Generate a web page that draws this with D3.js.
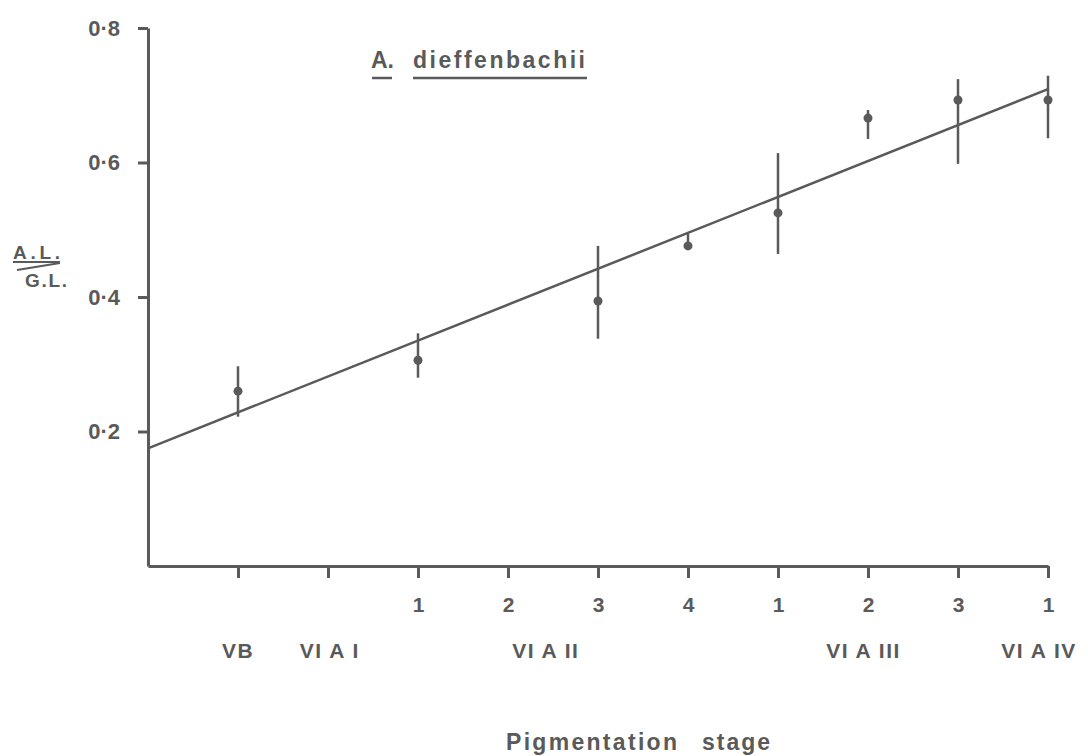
<!DOCTYPE html>
<html>
<head>
<meta charset="utf-8">
<script src="https://cdn.jsdelivr.net/npm/d3@7"></script>
<style>
  body { margin: 0; background: #fff; }
  text { font-family: "Liberation Sans", Arial, sans-serif; font-weight: bold; fill: #5a5a5a; }
</style>
</head>
<body>
<div id="chart"></div>
<script>
// stage index along the x axis (1..10), mean A.L./G.L. and the error bar ends
const stageIndex = [1, 3, 5, 6, 7, 8, 9, 10];
const meanRatio  = [0.260, 0.306, 0.394, 0.476, 0.525, 0.666, 0.693, 0.693];
const errLow     = [0.222, 0.280, 0.338, 0.474, 0.464, 0.635, 0.598, 0.636];
const errHigh    = [0.297, 0.346, 0.476, 0.494, 0.614, 0.678, 0.724, 0.729];

// fitted regression line, end points
const fitX = [0, 10];
const fitY = [0.175, 0.709];

// tick labels
const yTicks = [0.2, 0.4, 0.6, 0.8];
const xTicks = [1, 2, 3, 4, 5, 6, 7, 8, 9, 10];
const subStageLabels = ["", "", "1", "2", "3", "4", "1", "2", "3", "1"];
const stageNames = ["VB", "VI A I", "VI A II", "VI A III", "VI A IV"];
const stagePos   = [1, 2.02, 4.42, 7.95, 9.9];

const width = 1088, height = 756;
const ink = "#5a5a5a";

const svg = d3.select("#chart")
    .append("svg")
    .attr("width", width)
    .attr("height", height);

const x = d3.scaleLinear().domain([0, 10]).range([148, 1048]);
const y = d3.scaleLinear().domain([0, 0.8]).range([566, 28]);

// y axis
const yAxis = svg.append("g")
    .attr("transform", `translate(${x(0)},0)`)
    .call(d3.axisLeft(y)
        .tickValues(yTicks)
        .tickSize(10)
        .tickSizeOuter(0)
        .tickPadding(18)
        .tickFormat(d => d3.format(".1f")(d).replace(".", "·")));
yAxis.select(".domain").attr("stroke", ink).attr("stroke-width", 3);
yAxis.selectAll(".tick line").attr("stroke", ink).attr("stroke-width", 3);
yAxis.selectAll(".tick text")
    .style("font-size", "22px")
    .attr("fill", ink);

// x axis
const xAxis = svg.append("g")
    .attr("transform", `translate(0,${y(0)})`)
    .call(d3.axisBottom(x)
        .tickValues(xTicks)
        .tickSize(12)
        .tickSizeOuter(0)
        .tickPadding(19)
        .tickFormat((d, i) => subStageLabels[i]));
xAxis.select(".domain").attr("stroke", ink).attr("stroke-width", 3);
xAxis.selectAll(".tick line").attr("stroke", ink).attr("stroke-width", 3);
xAxis.selectAll(".tick text")
    .style("font-size", "21px")
    .attr("fill", ink);

// stage names row
svg.selectAll(".stage-name")
    .data(stageNames)
    .enter()
    .append("text")
    .attr("class", "stage-name")
    .attr("x", (d, i) => x(stagePos[i]))
    .attr("y", 658)
    .attr("text-anchor", "middle")
    .style("font-size", "21px")
    .style("letter-spacing", "1.5px")
    .text(d => d);

// regression line
svg.append("line")
    .attr("x1", x(fitX[0]))
    .attr("y1", y(fitY[0]))
    .attr("x2", x(fitX[1]))
    .attr("y2", y(fitY[1]))
    .attr("stroke", ink)
    .attr("stroke-width", 2.5);

// error bars
svg.selectAll(".err")
    .data(stageIndex)
    .enter()
    .append("line")
    .attr("class", "err")
    .attr("x1", d => x(d))
    .attr("x2", d => x(d))
    .attr("y1", (d, i) => y(errLow[i]))
    .attr("y2", (d, i) => y(errHigh[i]))
    .attr("stroke", ink)
    .attr("stroke-width", 2.5);

// means
svg.selectAll(".mean")
    .data(stageIndex)
    .enter()
    .append("circle")
    .attr("class", "mean")
    .attr("cx", d => x(d))
    .attr("cy", (d, i) => y(meanRatio[i]))
    .attr("r", 4.5)
    .attr("fill", ink);

// species title, underlined
svg.append("text")
    .attr("x", 371).attr("y", 68)
    .style("font-size", "23px")
    .text("A.");
svg.append("line")
    .attr("x1", 372).attr("x2", 392).attr("y1", 78).attr("y2", 78)
    .attr("stroke", ink).attr("stroke-width", 2.5);
svg.append("text")
    .attr("x", 413).attr("y", 68)
    .attr("textLength", 172)
    .attr("lengthAdjust", "spacing")
    .style("font-size", "23px")
    .text("dieffenbachii");
svg.append("line")
    .attr("x1", 413).attr("x2", 587).attr("y1", 78).attr("y2", 78)
    .attr("stroke", ink).attr("stroke-width", 2.5);

// y axis label: A.L. over G.L.
svg.append("text")
    .attr("x", 13).attr("y", 259)
    .attr("textLength", 47)
    .attr("lengthAdjust", "spacing")
    .style("font-size", "19px")
    .text("A.L.");
svg.append("line")
    .attr("x1", 13).attr("x2", 60).attr("y1", 262).attr("y2", 262)
    .attr("stroke", ink).attr("stroke-width", 2);
svg.append("line")
    .attr("x1", 17).attr("x2", 60).attr("y1", 270).attr("y2", 263)
    .attr("stroke", ink).attr("stroke-width", 2);
svg.append("text")
    .attr("x", 25).attr("y", 287)
    .attr("textLength", 42)
    .attr("lengthAdjust", "spacing")
    .style("font-size", "19px")
    .text("G.L.");

// x axis title
svg.append("text")
    .attr("x", 506).attr("y", 750)
    .attr("textLength", 171)
    .attr("lengthAdjust", "spacing")
    .style("font-size", "23px")
    .text("Pigmentation");
svg.append("text")
    .attr("x", 702).attr("y", 750)
    .attr("textLength", 68)
    .attr("lengthAdjust", "spacing")
    .style("font-size", "23px")
    .text("stage");
</script>
</body>
</html>
